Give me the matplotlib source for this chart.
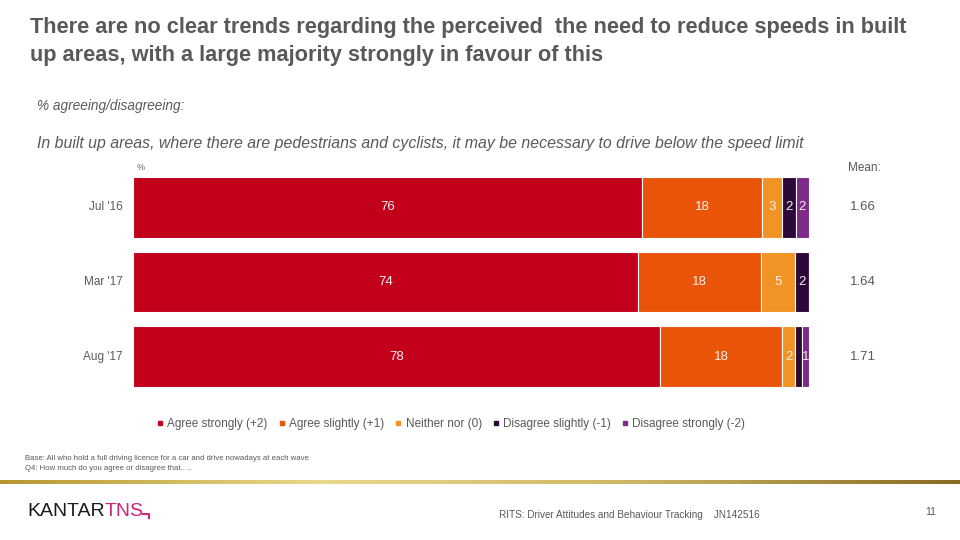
import numpy as np
import matplotlib
matplotlib.use('Agg')
import matplotlib.pyplot as plt
from matplotlib.colors import LinearSegmentedColormap

plt.rcParams['font.family'] = ['Liberation Sans', 'DejaVu Sans']

# ── Data ───────────────────────────────────────────────────────────────────────
waves = ["Jul '16", "Mar '17", "Aug '17"]
categories = ['Agree strongly (+2)', 'Agree slightly (+1)', 'Neither nor (0)',
              'Disagree slightly (-1)', 'Disagree strongly (-2)']
agree_strongly = [76, 74, 78]
agree_slightly = [18, 18, 18]
neither = [3, 5, 2]
disagree_slightly = [2, 2, 1]
disagree_strongly = [2, 0, 1]
means = ['1.66', '1.64', '1.71']
# labels printed on the segments ('' = not shown)
seg_labels = [['76', '18', '3', '2', '2'],
              ['74', '18', '5', '2', ''],
              ['78', '18', '2', '', '1']]

colors = ['#C3001A', '#EA5408', '#F29325', '#2E0838', '#7E2A88']
grey = '#595959'

series = np.array([agree_strongly, agree_slightly, neither,
                   disagree_slightly, disagree_strongly], dtype=float)
series = series / series.sum(axis=0) * 100   # each bar fills 100%

fig = plt.figure(figsize=(9.6, 5.4), dpi=100)
fig.patch.set_facecolor('white')

# ── Titles ─────────────────────────────────────────────────────────────────────
fig.text(30 / 960, 1 - 27 / 540,
         'There are no clear trends regarding the perceived  the need to reduce speeds in built',
         fontsize=15.7, fontweight='bold', color=grey, va='center', ha='left')
fig.text(30 / 960, 1 - 55 / 540,
         'up areas, with a large majority strongly in favour of this',
         fontsize=15.7, fontweight='bold', color=grey, va='center', ha='left')
fig.text(37 / 960, 1 - 106 / 540, '% agreeing/disagreeing:', fontsize=9.8,
         style='italic', color=grey, va='center')
fig.text(37 / 960, 1 - 144 / 540,
         'In built up areas, where there are pedestrians and cyclists, it may be necessary to drive below the speed limit',
         fontsize=11.4, style='italic', color=grey, va='center')

# ── Bars ───────────────────────────────────────────────────────────────────────
bar_h = 0.81
ax = fig.add_axes([133 / 960, 1 - 387 / 540, (809 - 133) / 960, (387 - 177) / 540])
y = np.arange(len(waves))
left = np.zeros(len(waves))
for i, (vals, c) in enumerate(zip(series, colors)):
    ax.barh(y, vals, left=left, height=bar_h, color=c, edgecolor='white', linewidth=0.8)
    for j in range(len(waves)):
        if seg_labels[j][i]:
            ax.text(left[j] + vals[j] / 2, y[j], seg_labels[j][i], ha='center', va='center',
                    fontsize=9.5, color='#f0f0f0')
    left += vals

ax.set_xlim(0, 100)
ax.set_ylim(len(waves) - 1 + bar_h / 2, -bar_h / 2)
ax.axis('off')

for j, w in enumerate(waves):
    ax.text(-1.5, y[j], w, ha='right', va='center', fontsize=8.5, color=grey)
    ax.text(108, y[j], means[j], ha='center', va='center', fontsize=9.5, color=grey)

fig.text(137 / 960, 1 - 167 / 540, '%', fontsize=6.5, color=grey, va='center')
fig.text(864 / 960, 1 - 168 / 540, 'Mean:', fontsize=8.5, color=grey, va='center', ha='center')

# ── Legend ─────────────────────────────────────────────────────────────────────
handles = [plt.Line2D([], [], marker='s', linestyle='', markersize=3, color=c) for c in colors]
fig.legend(handles, categories, loc='center', bbox_to_anchor=(451 / 960, 1 - 424 / 540),
           ncol=5, frameon=False, fontsize=8.5, handlelength=0.6, handletextpad=0.3,
           columnspacing=0.9, labelcolor=grey)

# ── Footer ─────────────────────────────────────────────────────────────────────
fig.text(25 / 960, 1 - 458 / 540,
         'Base: All who hold a full driving licence for a car and drive nowadays at each wave',
         fontsize=5.6, color=grey, va='center')
fig.text(25 / 960, 1 - 468 / 540, 'Q4: How much do you agree or disagree that.. ..',
         fontsize=5.6, color=grey, va='center')

gold = LinearSegmentedColormap.from_list('gold', ['#b8962f', '#e9d98a', '#cdb565', '#8a6a1f'])
lax = fig.add_axes([0, 1 - 484 / 540, 1, 4 / 540])
lax.imshow(np.linspace(0, 1, 256).reshape(1, -1), aspect='auto', cmap=gold)
lax.axis('off')

fig.text(27 / 960, 1 - 512 / 540, 'KANTAR', fontsize=14, color='#1a1a1a', va='center')
fig.text(105 / 960, 1 - 512 / 540, 'TNS', fontsize=14, color='#C8267F', va='center')
fig.add_artist(plt.Line2D([143 / 960, 149 / 960, 149 / 960],
                          [1 - 514 / 540, 1 - 514 / 540, 1 - 518 / 540],
                          color='#C8267F', linewidth=1.5, transform=fig.transFigure))
fig.text(499 / 960, 1 - 515 / 540,
         'RITS: Driver Attitudes and Behaviour Tracking    JN142516',
         fontsize=7.2, color=grey, va='center')
fig.text(925 / 960, 1 - 512 / 540, '11', fontsize=7.5, color=grey, va='center')

fig.savefig('out.png', dpi=100)
